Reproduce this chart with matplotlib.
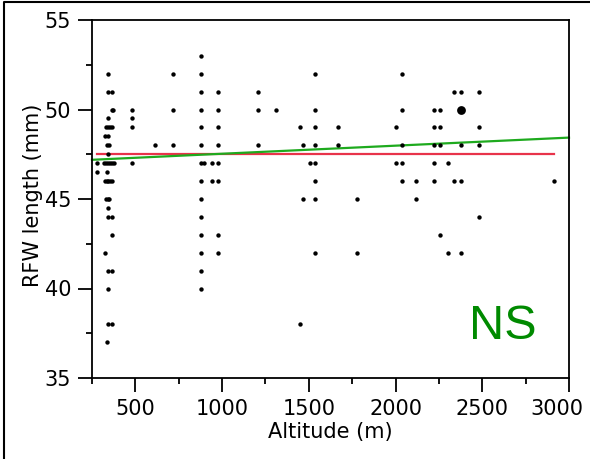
import matplotlib
matplotlib.use("Agg")
import matplotlib.pyplot as plt
import matplotlib.transforms as mtransforms
from matplotlib.lines import Line2D
from matplotlib.ticker import MultipleLocator

# ---- data ----
altitude = [277, 277, 320, 325, 325, 325, 328, 332, 332, 334,
            338, 338, 338,
            340, 340, 340, 340, 340, 340, 340, 340, 340, 340,
            344, 344, 344, 344, 347, 347, 351, 353, 355,
            363, 363, 363, 363, 365, 365, 365, 367, 367, 370, 374,
            479, 479, 479, 479, 613, 719, 719, 719,
            877, 877, 877, 877, 877, 877, 877, 877, 877, 877, 877, 877, 877, 877,
            897, 940, 940,
            975, 975, 975, 975, 975, 975, 975, 975,
            1205, 1205, 1205, 1309, 1451, 1451, 1465, 1465, 1507,
            1536, 1536, 1536, 1536, 1536, 1536, 1536, 1536,
            1667, 1667, 1778, 1778,
            2001, 2001, 2035, 2035, 2035, 2035, 2035, 2116, 2116,
            2222, 2222, 2222, 2222, 2222, 2256, 2256, 2256, 2256,
            2300, 2300, 2335, 2335, 2377, 2377, 2377, 2377,
            2481, 2481, 2481, 2481, 2912]
rfw_length = [47, 46.5, 47, 48.5, 46, 42, 49, 47, 45, 46,
              48, 46.5, 37,
              52, 51, 49.5, 49, 44.5, 44, 41, 40, 38, 45,
              48.5, 47.5, 47, 46, 48, 45, 49, 46, 47,
              49, 44, 41, 38, 50, 46, 43, 51, 47, 50, 47,
              50, 49.5, 49, 47, 48, 52, 50, 48,
              53, 52, 51, 50, 49, 48, 47, 46, 45, 44, 43, 42, 41, 40,
              47, 47, 46,
              51, 50, 49, 48, 47, 46, 43, 42,
              51, 50, 48, 50, 49, 38, 48, 45, 47,
              52, 50, 49, 48, 47, 46, 45, 42,
              49, 48, 45, 42,
              49, 47, 52, 50, 48, 47, 46, 46, 45,
              50, 49, 48, 47, 46, 50, 49, 48, 43,
              47, 42, 51, 46, 51, 48, 46, 42,
              51, 49, 48, 44, 46]
# overlapping observations drawn as a larger dot
multi_altitude = [2377]
multi_length = [50]

mean_length = 47.53                 # horizontal mean line
fit_altitude = [250, 3000]          # regression line ends
fit_length = [47.19, 48.43]

x_ticks = [500, 1000, 1500, 2000, 2500, 3000]
y_ticks = [35, 40, 45, 50, 55]

# ---- figure ----
plt.rcParams['font.family'] = ['DejaVu Sans']
W, H = 590, 459
fig = plt.figure(figsize=(W / 100, H / 100), dpi=100)
ax = fig.add_axes([92 / W, 1 - 378 / H, (569 - 92) / W, (378 - 20) / H])

ax.scatter(altitude, rfw_length, s=10, color='black', linewidths=0, zorder=3)
ax.scatter(multi_altitude, multi_length, s=40, color='black', linewidths=0, zorder=3)

ax.plot([min(altitude), max(altitude)], [mean_length, mean_length],
        color='#e8334a', lw=1.6, zorder=2)
ax.plot(fit_altitude, fit_length, color='#1eaa1e', lw=1.6, zorder=2, clip_on=False)

ax.set_xlim(250, 3000)
ax.set_ylim(35, 55)
ax.set_xticks(x_ticks)
ax.set_yticks(y_ticks)
ax.xaxis.set_minor_locator(MultipleLocator(250))
ax.yaxis.set_minor_locator(MultipleLocator(2.5))

ax.tick_params(which='major', direction='out', length=10, width=1.3,
               labelsize=15, pad=5, colors='black')
ax.tick_params(which='minor', direction='out', length=4.5, width=1.3)

for sp in ax.spines.values():
    sp.set_linewidth(1.3)

ax.set_xlabel('Altitude (m)', fontsize=15, labelpad=2)
ax.set_ylabel('RFW length (mm)', fontsize=15)
ax.yaxis.set_label_coords(-0.103, 0.51)

ax.text(0.862, 0.145, 'NS', transform=ax.transAxes, fontsize=35,
        family='Liberation Sans', color='#008a00', ha='center', va='center')

# keep the last x tick label inside the figure, as in the reference
fig.canvas.draw()
last = ax.get_xticklabels()[-1]
last.set_horizontalalignment('right')
last.set_transform(last.get_transform() +
                   mtransforms.ScaledTranslation(14 / 100, 0, fig.dpi_scale_trans))

# outer frame (left and top edges visible)
fig.add_artist(Line2D([4 / W, 4 / W, 1.0], [0.0, 1 - 2 / H, 1 - 2 / H],
                      transform=fig.transFigure, color='black', lw=1.5))

fig.savefig('out.png', dpi=100)
